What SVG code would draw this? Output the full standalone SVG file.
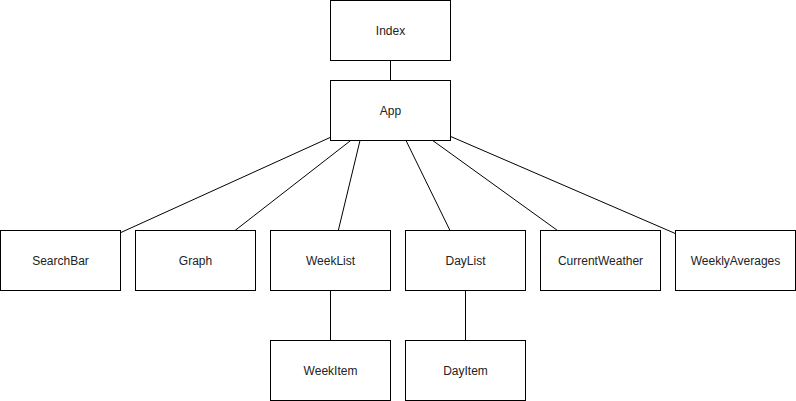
<svg xmlns="http://www.w3.org/2000/svg" width="796" height="401" viewBox="0 0 796 401">
<style>
.box{fill:#fff;stroke:#000;stroke-width:1}
.lbl{font-family:"Liberation Sans",Arial,sans-serif;font-size:12px;fill:#222;text-anchor:middle;dominant-baseline:central}
.edge{stroke:#000;stroke-width:1;fill:none}
</style>
<rect width="796" height="401" fill="#fff"/>
<g id="connectors">
<line class="edge" x1="390.5" y1="60.5" x2="390.5" y2="80.5"/>
<line class="edge" x1="330.5" y1="137.3" x2="120.5" y2="232.7"/>
<line class="edge" x1="350.7" y1="140.5" x2="235" y2="230.5"/>
<line class="edge" x1="360" y1="140.5" x2="338.3" y2="230.5"/>
<line class="edge" x1="406" y1="140.5" x2="450" y2="230.5"/>
<line class="edge" x1="432.7" y1="140.5" x2="557.5" y2="230.5"/>
<line class="edge" x1="450.5" y1="136.4" x2="675.5" y2="233.6"/>
<line class="edge" x1="330.5" y1="290.5" x2="330.5" y2="340.5"/>
<line class="edge" x1="465.5" y1="290.5" x2="465.5" y2="340.5"/>
</g>
<g id="index"><rect class="box" x="330.5" y="0.5" width="120" height="60"/><text class="lbl" x="390.5" y="30.5">Index</text></g>
<g id="app"><rect class="box" x="330.5" y="80.5" width="120" height="60"/><text class="lbl" x="390.5" y="110.5">App</text></g>
<g id="searchbar"><rect class="box" x="0.5" y="230.5" width="120" height="60"/><text class="lbl" x="60.5" y="260.5">SearchBar</text></g>
<g id="graph"><rect class="box" x="135.5" y="230.5" width="120" height="60"/><text class="lbl" x="195.5" y="260.5">Graph</text></g>
<g id="weeklist"><rect class="box" x="270.5" y="230.5" width="120" height="60"/><text class="lbl" x="330.5" y="260.5">WeekList</text></g>
<g id="daylist"><rect class="box" x="405.5" y="230.5" width="120" height="60"/><text class="lbl" x="465.5" y="260.5">DayList</text></g>
<g id="currentweather"><rect class="box" x="540.5" y="230.5" width="120" height="60"/><text class="lbl" x="600.5" y="260.5">CurrentWeather</text></g>
<g id="weeklyaverages"><rect class="box" x="675.5" y="230.5" width="120" height="60"/><text class="lbl" x="735.5" y="260.5">WeeklyAverages</text></g>
<g id="weekitem"><rect class="box" x="270.5" y="340.5" width="120" height="60"/><text class="lbl" x="330.5" y="370.5">WeekItem</text></g>
<g id="dayitem"><rect class="box" x="405.5" y="340.5" width="120" height="60"/><text class="lbl" x="465.5" y="370.5">DayItem</text></g>
</svg>
